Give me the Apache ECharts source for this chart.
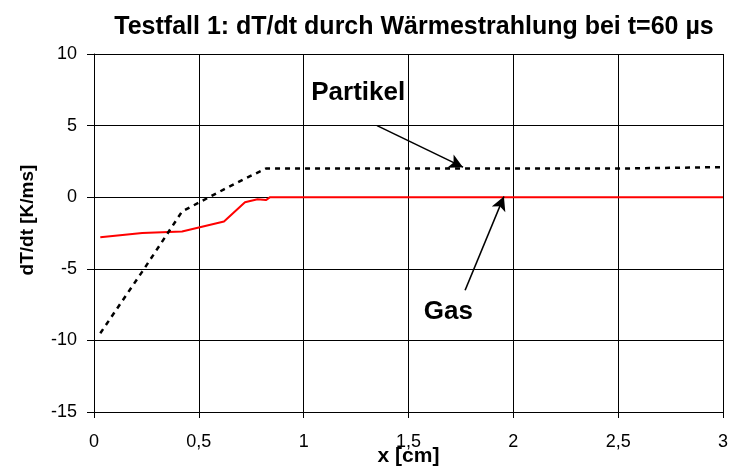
<!DOCTYPE html>
<html>
<head>
<meta charset="utf-8">
<script src="https://cdn.jsdelivr.net/npm/echarts@6/dist/echarts.min.js"></script>
<style>
  html, body { margin: 0; padding: 0; background: #fff; }
  #chart { width: 732px; height: 475px; }
</style>
</head>
<body>
<div id="chart"></div>
<script>
// Temperature change rate by thermal radiation, test case 1, t = 60 µs
const titleText = 'Testfall 1: dT/dt durch Wärmestrahlung bei t=60 \u00b5s';

// Particle phase (dotted black)
const partikelX = [0.03, 0.23, 0.42, 0.62, 0.72, 0.82, 1.0, 1.5, 2.0, 2.5, 3.0];
const partikelY = [-9.5, -5.2, -1.0, 0.55, 1.3, 2.0, 2.0, 2.0, 2.0, 2.0, 2.1];

// Gas phase (solid red)
const gasX = [0.03, 0.23, 0.42, 0.62, 0.72, 0.78, 0.82, 0.84, 1.0, 1.5, 2.0, 2.5, 3.0];
const gasY = [-2.8, -2.5, -2.4, -1.7, -0.35, -0.15, -0.2, 0, 0, 0, 0, 0, 0];

// Annotation anchors in data units
const partikelLabelPos = [1.26, 7.3];
const partikelArrow = [[1.35, 5.0], [1.76, 2.1]];
const gasLabelPos = [1.69, -8.0];
const gasArrow = [[1.77, -6.5], [1.955, 0.05]];

const FONT = '"Liberation Sans", Arial, sans-serif';

function pairs(xs, ys) { return xs.map((x, i) => [x, ys[i]]); }

function arrowLine(seg) {
  return {
    silent: true,
    symbol: ['none', 'arrow'],
    symbolSize: [11, 14],
    label: { show: false },
    lineStyle: { color: '#000', width: 1.6, type: 'solid' },
    itemStyle: { color: '#000' },
    emphasis: { disabled: true },
    animation: false,
    data: [[{ coord: seg[0] }, { coord: seg[1] }]]
  };
}

function textMark(pos, text) {
  return {
    silent: true,
    symbol: 'circle',
    symbolSize: 1,
    itemStyle: { color: 'transparent' },
    label: {
      show: true, position: 'inside', formatter: text,
      fontFamily: FONT, fontWeight: 'bold', fontSize: 26, color: '#000'
    },
    animation: false,
    data: [{ coord: pos }]
  };
}

const chart = echarts.init(document.getElementById('chart'), null, { renderer: 'canvas' });
const gridLine = { show: true, lineStyle: { color: '#000', width: 1 } };

chart.setOption({
  animation: false,
  backgroundColor: '#fff',
  title: {
    text: titleText,
    left: 409, top: 10, textAlign: 'center',
    textStyle: { fontFamily: FONT, fontWeight: 'bold', fontSize: 25, color: '#000' }
  },
  grid: {
    left: 94, right: 9, top: 54, bottom: 63,
    containLabel: false, outerBoundsMode: 'none'
  },
  xAxis: {
    type: 'value', min: 0, max: 3, interval: 0.5,
    name: 'x [cm]', nameLocation: 'middle', nameGap: 34, nameMoveOverlap: false,
    nameTextStyle: { fontFamily: FONT, fontWeight: 'bold', fontSize: 21, color: '#000' },
    axisLine: { show: true, onZero: false, lineStyle: { color: '#000' } },
    axisTick: { show: true, length: 6, lineStyle: { color: '#000' } },
    axisLabel: {
      margin: 21, fontFamily: FONT, fontSize: 18, color: '#000',
      formatter: v => String(v).replace('.', ',')
    },
    splitLine: gridLine
  },
  yAxis: {
    type: 'value', min: -15, max: 10, interval: 5,
    name: 'dT/dt [K/ms]', nameLocation: 'middle', nameGap: 57, nameMoveOverlap: false,
    nameTextStyle: {
      fontFamily: FONT, fontWeight: 'bold', fontSize: 19, color: '#000',
      padding: [0, 0, 0, 26]
    },
    axisLine: { show: true, lineStyle: { color: '#000' } },
    axisTick: { show: true, length: 7, lineStyle: { color: '#000' } },
    axisLabel: { margin: 17, fontFamily: FONT, fontSize: 18, color: '#000' },
    splitLine: gridLine
  },
  series: [
    {
      name: 'Gas', type: 'line', data: pairs(gasX, gasY),
      showSymbol: false, symbol: 'none',
      lineStyle: { color: '#ff0000', width: 2 },
      markLine: arrowLine(gasArrow),
      markPoint: textMark(gasLabelPos, 'Gas'),
      z: 3
    },
    {
      name: 'Partikel', type: 'line', data: pairs(partikelX, partikelY),
      showSymbol: false, symbol: 'none',
      lineStyle: { color: '#000', width: 2.5, type: [5, 5] },
      markLine: arrowLine(partikelArrow),
      markPoint: textMark(partikelLabelPos, 'Partikel'),
      z: 4
    }
  ]
});
</script>
</body>
</html>
